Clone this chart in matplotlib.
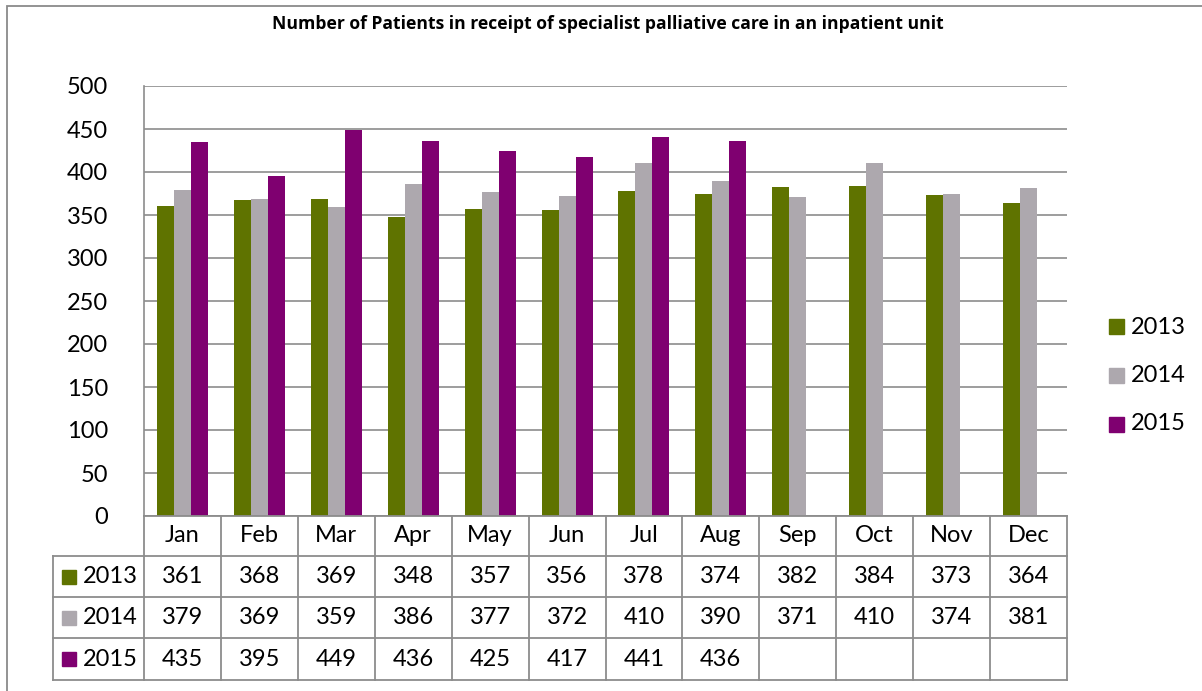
import matplotlib
matplotlib.use("Agg")
import matplotlib.pyplot as plt
from matplotlib.patches import Rectangle
from matplotlib.lines import Line2D
import numpy as np

plt.rcParams['font.family'] = ['Lato', 'DejaVu Sans']

title = "Number of Patients in receipt of specialist palliative care in an inpatient unit"
months = ["Jan", "Feb", "Mar", "Apr", "May", "Jun", "Jul", "Aug", "Sep", "Oct", "Nov", "Dec"]
series_names = ["2013", "2014", "2015"]
values_2013 = [361, 368, 369, 348, 357, 356, 378, 374, 382, 384, 373, 364]
values_2014 = [379, 369, 359, 386, 377, 372, 410, 390, 371, 410, 374, 381]
values_2015 = [435, 395, 449, 436, 425, 417, 441, 436, None, None, None, None]
colors = ["#5F7300", "#ADA8AE", "#7F0070"]
y_ticks = [0, 50, 100, 150, 200, 250, 300, 350, 400, 450, 500]

W, H = 1202, 691
fig = plt.figure(figsize=(W / 100, H / 100), dpi=100)

def fx(px):
    return px / W

def fy(py):
    return 1 - py / H

# outer border
fig.add_artist(Rectangle((fx(7), fy(1000)), fx(1400) - fx(7), fy(6) - fy(1000),
                         transform=fig.transFigure, fill=False, edgecolor="#8a8a8a", lw=1.3))

L, R, T, B = 144, 1067, 86, 516
ax = fig.add_axes([fx(L), fy(B), fx(R) - fx(L), fy(T) - fy(B)])
grid_c = "#8c8c8c"

all_series = [values_2013, values_2014, values_2015]
x = np.arange(len(months))
bw = 0.221
for i, (vals, c) in enumerate(zip(all_series, colors)):
    xs = [xi + (i - 1) * bw for xi, v in zip(x, vals) if v is not None]
    hs = [v for v in vals if v is not None]
    ax.bar(xs, hs, width=bw, color=c, zorder=3)

ax.set_xlim(-0.5, len(months) - 0.5)
ax.set_ylim(0, 500)
ax.set_yticks(y_ticks)
ax.set_yticklabels([str(t) for t in y_ticks], fontsize=17)
ax.tick_params(axis='y', length=0, pad=26)
ax.set_xticks([])
ax.grid(axis='y', color=grid_c, lw=1.2, zorder=0)
for s in ["top", "right", "bottom"]:
    ax.spines[s].set_visible(False)
ax.spines["left"].set_color(grid_c)
ax.spines["left"].set_linewidth(1.2)

fig.text(fx(608), fy(24), title, ha="center", va="center", fontsize=12.65,
         fontweight="bold", family=["Open Sans", "DejaVu Sans"])

# data table
LBL = 53
col_w = (R - L) / len(months)
row_tops = [516, 556, 597, 638, 680]

def hline(y, x0, x1):
    fig.add_artist(Line2D([fx(x0), fx(x1)], [fy(y), fy(y)], transform=fig.transFigure,
                          color=grid_c, lw=1.3))

def vline(xp, y0, y1):
    fig.add_artist(Line2D([fx(xp), fx(xp)], [fy(y0), fy(y1)], transform=fig.transFigure,
                          color=grid_c, lw=1.3))

hline(row_tops[0], L, R)
for y in row_tops[1:]:
    hline(y, LBL, R)
for k in range(len(months) + 1):
    vline(L + k * col_w, row_tops[0], row_tops[-1])
vline(LBL, row_tops[1], row_tops[-1])

for k, m in enumerate(months):
    fig.text(fx(L + (k + 0.5) * col_w), fy((row_tops[0] + row_tops[1]) / 2), m,
             ha="center", va="center", fontsize=17)

for r, (name, vals, c) in enumerate(zip(series_names, all_series, colors)):
    yc = (row_tops[r + 1] + row_tops[r + 2]) / 2
    fig.add_artist(Rectangle((fx(62), fy(yc + 7)), fx(14), fy(0) - fy(14),
                             transform=fig.transFigure, color=c))
    fig.text(fx(83), fy(yc), name, ha="left", va="center", fontsize=17)
    for k, v in enumerate(vals):
        if v is not None:
            fig.text(fx(L + (k + 0.5) * col_w), fy(yc), str(v),
                     ha="center", va="center", fontsize=17)

# legend
for r, (name, c) in enumerate(zip(series_names, colors)):
    yc = 327 + r * 48.5
    fig.add_artist(Rectangle((fx(1109), fy(yc + 7.5)), fx(15), fy(0) - fy(15),
                             transform=fig.transFigure, color=c))
    fig.text(fx(1131), fy(yc), name, ha="left", va="center", fontsize=17)

fig.savefig("out.png", dpi=100)
